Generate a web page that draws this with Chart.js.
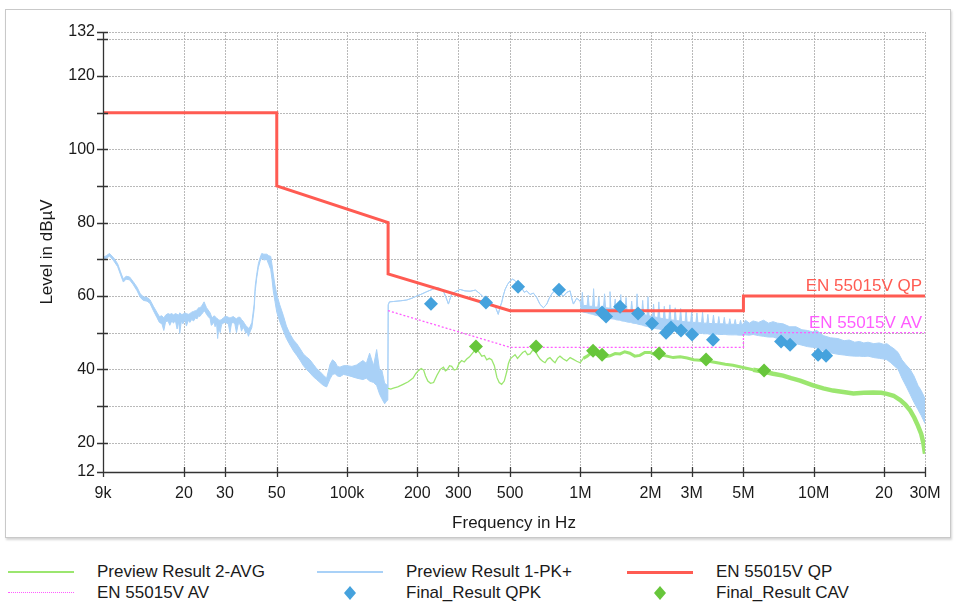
<!DOCTYPE html>
<html>
<head>
<meta charset="utf-8">
<script src="https://cdn.jsdelivr.net/npm/chart.js@4.4.1/dist/chart.umd.min.js"></script>
<style>
  html, body { margin: 0; padding: 0; background: #ffffff; }
  body { width: 954px; height: 607px; position: relative; overflow: hidden;
         font-family: "Liberation Sans", Arial, sans-serif; color: #1a1a1a; }
  #frame { position: absolute; left: 5px; top: 9px; width: 944px; height: 527px;
           border: 1px solid #c9c9c9; box-shadow: 1px 2px 2px #d6d6d6; background: #fff; }
  #wrap { position: absolute; left: 0; top: 0; width: 954px; height: 540px; }
  #legend { position: absolute; left: 0; top: 560px; width: 954px; height: 47px; }
  .lg-text { position: absolute; font-size: 17px; line-height: 20px; white-space: nowrap; color: #1a1a1a; }
  .lg-line { position: absolute; }
</style>
</head>
<body>
<div id="frame"></div>
<div id="wrap"><canvas id="chart" width="954" height="540"></canvas></div>
<div id="legend"></div>
<script>
// ---------- axis ticks ----------
const xTicks = [9e3, 2e4, 3e4, 5e4, 1e5, 2e5, 3e5, 5e5, 1e6, 2e6, 3e6, 5e6, 1e7, 2e7, 3e7];
const xLabels = ['9k', '20', '30', '50', '100k', '200', '300', '500', '1M', '2M', '3M', '5M', '10M', '20', '30M'];
const yTicks = [12, 20, 30, 40, 50, 60, 70, 80, 90, 100, 110, 120, 130, 132];
const yLabeled = [12, 20, 40, 60, 80, 100, 120, 132];

// ---------- series names ----------
const seriesNames = ['Preview Result 2-AVG', 'Preview Result 1-PK+', 'EN 55015V QP',
                     'EN 55015V AV', 'Final_Result QPK', 'Final_Result CAV'];

// ---------- limit lines ----------
const qpFreq = [9e3, 5e4, 5e4, 1.5e5, 1.5e5, 5e5, 5e6, 5e6, 3e7];
const qpLevel = [110, 110, 90, 80, 66, 56, 56, 60, 60];
const avFreq = [1.5e5, 5e5, 5e6, 5e6, 3e7];
const avLevel = [56, 46, 46, 50, 50];

// ---------- final results ----------
const qpkFreq = [229e3, 394e3, 541e3, 810e3, 1.239e6, 1.289e6, 1.48e6, 1.768e6, 2.029e6,
                 2.33e6, 2.447e6, 2.701e6, 3.011e6, 3.704e6, 7.248e6, 7.921e6, 10.44e6, 11.3e6];
const qpkLevel = [57.9, 58.2, 62.5, 61.7, 55.5, 54.4, 57.1, 55.2, 52.5,
                  50.0, 51.4, 50.6, 49.5, 48.1, 47.6, 46.7, 44.0, 43.7];
const cavFreq = [357e3, 646e3, 1.134e6, 1.239e6, 2.175e6, 3.458e6, 6.13e6];
const cavLevel = [46.2, 46.2, 45.1, 44.0, 44.3, 42.7, 39.7];

// ---------- preview PK+ trace: [frequency, upper edge, lower edge] of the drawn trace ----------
const pkTrace = [
  [9000,70.5,69.8],[9300,71.0,70.3],[9600,71.6,70.9],[10000,70.4,69.6],[10400,68.8,68.0],
  [10700,66.6,65.8],[11000,64.6,63.8],[11300,65.4,64.6],[11700,65.2,64.4],[12100,64.0,63.2],
  [12600,62.4,61.4],[13000,60.6,59.6],[13400,59.8,58.8],[13900,59.6,58.6],[14300,59.0,58.0],
  [14800,57.2,56.0],[15300,55.6,54.2],[15700,54.4,52.8],[16100,54.6,52.4],[16400,54.0,50.6],
  [16700,54.8,53.0],[17100,55.2,53.2],[17400,55.0,52.0],[17800,55.2,53.4],[18000,54.8,52.6],
  [18400,55.2,53.2],[18700,55.0,51.0],[19000,54.8,53.0],[19200,55.4,49.8],[19500,55.0,53.2],
  [19800,55.0,52.4],[20200,55.4,53.6],[20500,55.2,51.8],[20900,55.0,53.4],[21200,55.2,52.8],
  [21600,55.6,53.6],[22000,55.8,53.2],[22400,56.0,54.0],[22800,56.2,53.8],[23100,56.8,54.6],
  [23400,56.8,54.4],[23800,57.2,55.0],[24100,57.8,55.4],[24400,58.4,56.0],[24700,57.6,55.6],
  [25000,56.8,55.0],[25400,56.2,54.4],[25900,55.4,53.8],[26200,54.6,52.0],[26500,54.0,52.2],
  [26900,54.6,53.0],[27200,54.4,51.6],[27600,54.0,52.6],[27900,53.8,48.4],[28200,53.4,51.6],
  [28600,53.4,50.0],[29000,53.6,52.2],[29500,54.0,52.6],[30000,54.4,52.8],[30500,54.4,52.6],
  [31000,54.2,52.4],[31500,54.0,50.0],[32000,54.2,52.6],[32600,54.4,52.8],[33100,54.0,52.2],
  [33600,53.8,50.0],[34200,54.2,52.4],[34800,54.2,52.4],[35300,53.6,50.4],[35800,53.2,51.4],
  [36300,52.6,51.0],[36800,52.0,49.8],[37300,51.6,50.2],[37800,51.2,49.0],[38400,51.6,50.2],
  [39100,52.8,51.4],[40000,57.8,56.4],[40400,62.6,61.2],[41000,65.8,64.8],[41700,68.8,67.8],
  [42400,70.4,69.4],[43100,71.6,70.4],[44000,71.4,69.8],[45300,71.4,70.0],[46200,71.0,68.6],
  [47100,70.8,67.2],[47700,68.6,64.6],[48300,66.0,61.4],[49100,63.0,58.6],[50000,60.4,55.6],
  [51500,57.6,53.0],[53400,54.6,50.4],[55000,51.8,48.4],[57000,49.6,46.6],[59000,48.0,45.0],
  [60900,47.0,43.8],[63000,45.6,42.4],[65000,44.2,41.0],[67000,43.4,40.0],[69400,42.6,39.0],
  [71700,41.4,38.0],[74100,40.2,37.2],[76600,39.4,36.4],[79200,38.4,35.6],[81800,37.6,35.2],
  [84600,41.4,37.4],[86700,42.6,38.6],[88900,42.0,38.8],[91000,40.8,38.2],[93300,40.6,38.0],
  [96600,41.0,38.6],[100000,41.0,38.4],[105000,40.8,38.0],[110000,41.2,37.6],[117000,42.4,37.2],
  [121000,41.6,37.6],[125000,44.4,36.8],[130000,41.0,36.4],[134000,45.4,35.6],[138000,39.6,33.2],
  [141000,39.8,32.0],[145000,36.2,30.6],[148000,35.8,31.4],[149600,35.0,31.6],
  [150200,57.6,57.6],[152000,58.4,58.4],[158000,58.5,58.5],[170000,58.7,58.7],
  [180000,58.9,58.9],[190000,59.4,59.4],[199000,60.0,60.0],[210000,60.6,60.6],[220000,61.2,61.2],
  [232000,61.8,61.8],[243000,62.3,62.3],[252000,62.0,62.0],[259000,61.3,61.3],[266000,59.5,59.5],
  [272000,57.8,57.8],[277000,59.4,59.4],[281000,60.5,60.5],[292000,61.2,61.2],[305000,61.8,61.8],
  [320000,61.4,61.4],[337000,61.3,61.3],[355000,61.6,61.6],[372000,60.6,60.6],[385000,59.6,59.6],
  [397000,58.6,58.6],[410000,58.2,58.2],[424000,57.7,57.7],[435000,56.6,56.6],[445000,55.0,55.0],
  [452000,56.8,56.8],[460000,58.2,58.2],[468000,60.2,60.2],[476000,61.8,61.8],[488000,63.2,63.2],
  [500000,64.1,64.1],[512000,64.6,64.6],[525000,64.2,64.2],[543000,63.0,63.0],[561000,62.2,62.2],
  [575000,61.0,61.0],[589000,61.4,61.4],[609000,60.4,60.4],[629000,60.8,60.8],[650000,59.6,59.6],
  [672000,57.7,57.7],[695000,56.8,56.8],[718000,57.8,57.8],[736000,59.4,59.4],[755000,60.6,60.6],
  [775000,61.4,61.4],[793000,61.8,61.8],[820000,60.6,60.6],[847000,60.0,60.0],[875000,61.0,61.0],
  [904000,61.4,61.4],[920000,59.2,59.2],[934000,57.8,57.8],[965000,59.4,59.4],[998000,58.6,58.6],
  [1.010e6,57.6,55.8],[1.020e6,61.0,55.7],[1.030e6,57.4,55.6],
  [1.069e6,57.4,55.4],[1.080e6,60.2,55.3],[1.091e6,57.2,55.2],
  [1.129e6,57.2,55.0],[1.140e6,62.0,54.9],[1.151e6,57.0,54.8],
  [1.188e6,57.0,54.6],[1.200e6,59.8,54.5],[1.212e6,56.8,54.4],
  [1.257e6,56.9,54.3],[1.270e6,60.6,54.2],[1.283e6,56.8,54.1],
  [1.327e6,56.7,54.0],[1.340e6,61.2,53.9],[1.353e6,56.6,53.8],
  [1.396e6,56.5,53.7],[1.410e6,59.2,53.6],[1.424e6,56.4,53.5],
  [1.475e6,56.3,53.4],[1.490e6,60.4,53.3],[1.505e6,56.2,53.2],
  [1.554e6,56.0,53.1],[1.570e6,59.6,53.0],[1.586e6,55.9,52.9],
  [1.643e6,55.7,52.8],[1.660e6,58.6,52.7],[1.677e6,55.6,52.6],
  [1.733e6,55.4,52.5],[1.750e6,60.6,52.4],[1.768e6,55.3,52.3],
  [1.832e6,55.1,52.1],[1.850e6,58.8,52.0],[1.869e6,55.0,51.9],
  [1.931e6,54.7,51.7],[1.950e6,59.8,51.6],[1.970e6,54.6,51.5],
  [2.039e6,54.4,51.3],[2.060e6,57.8,51.2],[2.081e6,54.3,51.2],
  [2.148e6,54.1,51.0],[2.170e6,58.4,51.0],[2.192e6,54.0,50.9],
  [2.267e6,53.8,50.8],[2.290e6,57.2,50.8],[2.313e6,53.7,50.7],
  [2.396e6,53.6,50.6],[2.420e6,57.6,50.6],[2.444e6,53.5,50.5],
  [2.525e6,53.4,50.4],[2.550e6,56.8,50.4],[2.576e6,53.3,50.3],
  [2.663e6,53.2,50.3],[2.690e6,56.6,50.2],[2.717e6,53.1,50.2],
  [2.812e6,53.0,50.1],[2.840e6,56.2,50.1],[2.868e6,52.9,50.0],
  [2.970e6,52.9,50.0],[3.000e6,56.0,50.0],[3.030e6,52.8,49.9],
  [3.128e6,52.8,49.9],[3.160e6,55.4,49.9],[3.192e6,52.7,49.8],
  [3.307e6,52.7,49.8],[3.340e6,55.6,49.8],[3.373e6,52.6,49.7],
  [3.485e6,52.6,49.7],[3.520e6,55.0,49.7],[3.555e6,52.5,49.6],
  [3.683e6,52.5,49.6],[3.720e6,54.8,49.6],[3.757e6,52.5,49.6],
  [3.881e6,52.4,49.6],[3.920e6,54.4,49.5],[3.959e6,52.4,49.5],
  [4.099e6,52.4,49.5],[4.140e6,54.2,49.5],[4.181e6,52.3,49.5],
  [4.326e6,52.3,49.4],[4.370e6,53.8,49.4],[4.414e6,52.3,49.4],
  [4.564e6,52.3,49.4],[4.610e6,53.6,49.4],[4.656e6,52.2,49.4],
  [4.811e6,52.2,49.3],[4.860e6,53.4,49.3],[4.909e6,52.2,49.3],
  [5.00e6,52.4,49.3],[5.10e6,53.4,49.4],[5.30e6,52.6,49.3],[5.50e6,53.2,49.5],
  [5.80e6,52.8,49.2],[6.10e6,53.4,49.0],[6.40e6,52.6,48.8],[6.70e6,53.0,48.8],[7.00e6,52.6,48.4],
  [7.40e6,52.4,47.8],[7.90e6,51.6,47.4],[8.40e6,51.6,47.0],[8.90e6,50.8,46.6],[9.40e6,50.6,46.2],
  [9.90e6,50.2,46.0],[10.3e6,50.6,45.8],[11.0e6,49.2,45.0],[11.8e6,48.6,44.5],[12.7e6,48.4,44.1],
  [13.5e6,47.8,43.9],[14.2e6,48.0,43.7],[15.0e6,47.4,43.6],[15.7e6,47.6,43.6],[16.4e6,47.2,43.5],
  [17.1e6,47.4,43.6],[18.1e6,47.0,43.2],[19.1e6,47.2,43.0],[20.0e6,46.8,42.8],[20.6e6,47.0,42.6],
  [21.4e6,46.2,41.8],[22.1e6,45.6,41.0],[23.0e6,44.6,40.0],[23.9e6,42.6,37.6],[24.9e6,41.2,35.4],
  [25.9e6,40.0,33.2],[26.9e6,38.2,31.0],[28.0e6,35.6,29.0],[28.9e6,34.2,27.4],[29.5e6,33.0,26.2],
  [30.0e6,32.0,25.2]
];

// ---------- preview AVG trace: [frequency, level] ----------
const avgTrace = [
  [150000,34.8],[154000,34.6],[158000,34.9],[165000,35.2],[174000,35.9],[183000,36.6],
  [192000,37.6],[197000,38.8],[202000,39.6],[208000,40.2],[213000,39.8],[217000,38.2],
  [222000,36.8],[228000,36.2],[235000,36.4],[243000,38.4],[251000,40.0],[259000,40.6],
  [264000,39.6],[268000,39.8],[275000,41.0],[281000,40.8],[288000,39.8],[295000,40.0],
  [302000,41.6],[310000,42.4],[318000,42.0],[326000,42.8],[335000,43.4],[343000,44.2],
  [351000,45.0],[360000,45.4],[369000,44.6],[378000,43.6],[388000,43.8],[397000,42.6],
  [407000,43.0],[417000,42.6],[428000,41.0],[439000,37.8],[449000,36.4],[460000,35.9],
  [472000,36.8],[484000,39.4],[492000,41.6],[500000,42.8],[512000,43.4],[525000,44.0],
  [538000,43.0],[552000,43.8],[566000,44.6],[580000,45.0],[594000,44.0],[609000,44.2],
  [624000,45.2],[640000,45.0],[656000,43.8],[672000,42.8],[689000,42.2],[706000,41.8],
  [723000,42.8],[741000,43.2],[760000,42.4],[779000,41.8],[798000,43.0],[818000,43.6],
  [846000,42.8],[874000,42.3],[904000,43.2],[934000,42.7],[965000,42.2],[998000,41.8],
  [1.03e6,43.0],[1.07e6,43.6],[1.10e6,44.2],[1.14e6,44.4],[1.19e6,44.0],[1.26e6,43.4],
  [1.34e6,43.7],[1.41e6,44.3],[1.48e6,44.2],[1.55e6,44.8],[1.63e6,44.4],[1.71e6,43.6],
  [1.80e6,43.8],[1.89e6,44.6],[1.99e6,44.6],[2.09e6,44.0],[2.20e6,44.0],[2.35e6,43.6],
  [2.50e6,43.2],[2.68e6,43.4],[2.87e6,43.1],[3.06e6,42.6],[3.26e6,42.5],[3.55e6,42.2],
  [3.86e6,41.8],[4.18e6,41.4],[4.51e6,41.1],[4.98e6,40.5],[5.5e6,39.9],[6.07e6,39.4],
  [6.7e6,38.8],[7.39e6,38.3],[8.0e6,37.6],[8.74e6,36.9],[9.94e6,35.6],[11.0e6,34.8],
  [12.1e6,34.2],[13.4e6,33.8],[14.8e6,33.4],[16.4e6,33.6],[18.0e6,33.7],[19.5e6,33.6],
  [20.6e6,33.3],[22.0e6,32.8],[23.5e6,31.6],[24.7e6,30.4],[25.9e6,28.8],[27.0e6,26.8],
  [28.0e6,24.6],[28.9e6,22.4],[29.5e6,20.0],[30.0e6,17.0]
];

// ---------- styles ----------
const C_PK = '#a9d1f7';
const C_AVG = '#9be66f';
const C_QP = '#ff5b52';
const C_AV = '#ff5cff';
const C_QPK = '#45a2dd';
const C_CAV = '#67c63b';
const C_GRID = '#b9b9b9';
const FONT = '"Liberation Sans", Arial, sans-serif';

const xy = (fs, vs) => fs.map((f, i) => ({x: f, y: vs[i]}));

// dotted grid drawn under the datasets, at the axis tick values
const gridPlugin = {
  id: 'dottedGrid',
  beforeDatasetsDraw(chart) {
    const {ctx, scales: {x, y}} = chart;
    ctx.save();
    ctx.strokeStyle = C_GRID;
    ctx.lineWidth = 1;
    ctx.setLineDash([2, 1]);
    ctx.beginPath();
    yTicks.forEach(v => {
      const py = Math.round(y.getPixelForValue(v)) + 0.5;
      ctx.moveTo(x.left, py); ctx.lineTo(x.right, py);
    });
    xTicks.forEach(v => {
      const px = Math.round(x.getPixelForValue(v)) + 0.5;
      ctx.moveTo(px, y.top); ctx.lineTo(px, y.bottom);
    });
    ctx.stroke();
    ctx.restore();
  }
};

const overlay = {
  id: 'overlay',
  afterDraw(chart) {
    const {ctx, scales: {x, y}} = chart;
    ctx.save();
    ctx.strokeStyle = '#333333';
    ctx.lineWidth = 1.3;
    ctx.beginPath();
    ctx.moveTo(x.left + 0.5, y.top); ctx.lineTo(x.left + 0.5, y.bottom);
    ctx.moveTo(x.left, Math.round(y.bottom) + 0.5); ctx.lineTo(x.right, Math.round(y.bottom) + 0.5);
    yTicks.forEach(v => {
      const py = Math.round(y.getPixelForValue(v)) + 0.5;
      ctx.moveTo(x.left - 6, py); ctx.lineTo(x.left + 5, py);
    });
    xTicks.forEach(v => {
      const px = Math.round(x.getPixelForValue(v)) + 0.5;
      ctx.moveTo(px, y.bottom - 5); ctx.lineTo(px, y.bottom + 5);
    });
    ctx.stroke();
    ctx.font = '17px ' + FONT;
    ctx.textAlign = 'right';
    ctx.textBaseline = 'alphabetic';
    ctx.fillStyle = C_QP;
    ctx.fillText(seriesNames[2], x.right - 3, y.getPixelForValue(qpLevel[qpLevel.length - 1]) - 5);
    ctx.fillStyle = C_AV;
    ctx.fillText(seriesNames[3], x.right - 3, y.getPixelForValue(avLevel[avLevel.length - 1]) - 5);
    ctx.restore();
  }
};

new Chart(document.getElementById('chart'), {
  type: 'line',
  data: {
    datasets: [
      { label: seriesNames[4], data: xy(qpkFreq, qpkLevel), showLine: false,
        pointStyle: 'rectRot', pointRadius: 7, pointBackgroundColor: C_QPK, pointBorderWidth: 0,
        borderColor: C_QPK, backgroundColor: C_QPK },
      { label: seriesNames[5], data: xy(cavFreq, cavLevel), showLine: false,
        pointStyle: 'rectRot', pointRadius: 7, pointBackgroundColor: C_CAV, pointBorderWidth: 0,
        borderColor: C_CAV, backgroundColor: C_CAV },
      { label: seriesNames[2], data: xy(qpFreq, qpLevel), borderColor: C_QP, borderWidth: 3,
        pointRadius: 0, fill: false, borderJoinStyle: 'miter' },
      { label: seriesNames[3], data: xy(avFreq, avLevel), borderColor: C_AV, borderWidth: 1.3,
        borderDash: [2, 2], pointRadius: 0, fill: false },
      { label: seriesNames[0], data: avgTrace.map(p => ({x: p[0], y: p[1]})), borderColor: C_AVG,
        borderWidth: 1.3, pointRadius: 0, fill: false,
        segment: { borderWidth: c => c.p0.parsed.x >= 5e6 ? 4.5 : (c.p0.parsed.x >= 1e6 ? 3 : 1.3) } },
      { label: seriesNames[1], data: pkTrace.map(p => ({x: p[0], y: p[1]})), borderColor: C_PK,
        backgroundColor: C_PK, borderWidth: 1, pointRadius: 0, fill: '+1' },
      { label: seriesNames[1] + ' low', data: pkTrace.map(p => ({x: p[0], y: p[2]})), borderColor: C_PK,
        borderWidth: 1, pointRadius: 0, fill: false }
    ]
  },
  options: {
    responsive: false,
    animation: false,
    events: [],
    layout: { padding: { left: 0, top: 32, right: 29, bottom: 0 } },
    plugins: { legend: { display: false }, tooltip: { enabled: false } },
    scales: {
      x: {
        type: 'logarithmic', min: 9e3, max: 3e7,
        afterBuildTicks: s => { s.ticks = xTicks.map(v => ({value: v})); },
        afterFit: s => { s.height = 68; },
        ticks: { autoSkip: false, maxRotation: 0, minRotation: 0, padding: 12,
                 color: '#1a1a1a', font: { family: FONT, size: 16 },
                 callback: (v, i) => xLabels[i] },
        grid: { display: false, drawTicks: false, tickLength: 0 },
        border: { display: false },
        title: { display: true, text: 'Frequency in Hz', color: '#1a1a1a',
                 font: { family: FONT, size: 17 }, padding: 6 }
      },
      y: {
        type: 'linear', min: 12, max: 132,
        afterBuildTicks: s => { s.ticks = yTicks.map(v => ({value: v})); },
        afterFit: s => { s.width = 103; },
        ticks: { autoSkip: false, padding: 8, color: '#1a1a1a', font: { family: FONT, size: 16 },
                 callback: v => yLabeled.includes(v) ? String(v) : '' },
        grid: { display: false, drawTicks: false, tickLength: 0 },
        border: { display: false },
        title: { display: true, text: 'Level in dBµV', color: '#1a1a1a',
                 font: { family: FONT, size: 17 }, padding: 37 }
      }
    }
  },
  plugins: [gridPlugin, overlay]
});

// ---------- legend (HTML) ----------
const legendRows = [
  [{name: seriesNames[0], kind: 'line', color: C_AVG, w: 1.5},
   {name: seriesNames[1], kind: 'line', color: C_PK, w: 1.5},
   {name: seriesNames[2], kind: 'line', color: C_QP, w: 3}],
  [{name: seriesNames[3], kind: 'dot', color: C_AV, w: 1.5},
   {name: seriesNames[4], kind: 'diamond', color: C_QPK},
   {name: seriesNames[5], kind: 'diamond', color: C_CAV}]
];
const colText = [97, 406, 716];
const colSwatch = [8, 317, 627];
const rowY = [12, 33];
const lg = document.getElementById('legend');
legendRows.forEach((row, r) => row.forEach((it, c) => {
  const sw = document.createElement('div');
  sw.className = 'lg-line';
  if (it.kind === 'line') {
    sw.style.cssText = `left:${colSwatch[c]}px;top:${rowY[r] - it.w / 2}px;width:66px;height:${it.w}px;background:${it.color};`;
  } else if (it.kind === 'dot') {
    sw.style.cssText = `left:${colSwatch[c]}px;top:${rowY[r] - 1}px;width:66px;height:0;border-top:1.5px dotted ${it.color};`;
  } else {
    sw.style.cssText = `left:${colSwatch[c] + 27}px;top:${rowY[r] - 7}px;width:12px;height:14px;`;
    sw.innerHTML = `<svg width="12" height="14" viewBox="0 0 12 14"><polygon points="6,0 12,7 6,14 0,7" fill="${it.color}"/></svg>`;
  }
  lg.appendChild(sw);
  const t = document.createElement('div');
  t.className = 'lg-text';
  t.textContent = it.name;
  t.style.left = colText[c] + 'px';
  t.style.top = (rowY[r] - 10) + 'px';
  lg.appendChild(t);
}));
</script>
</body>
</html>
